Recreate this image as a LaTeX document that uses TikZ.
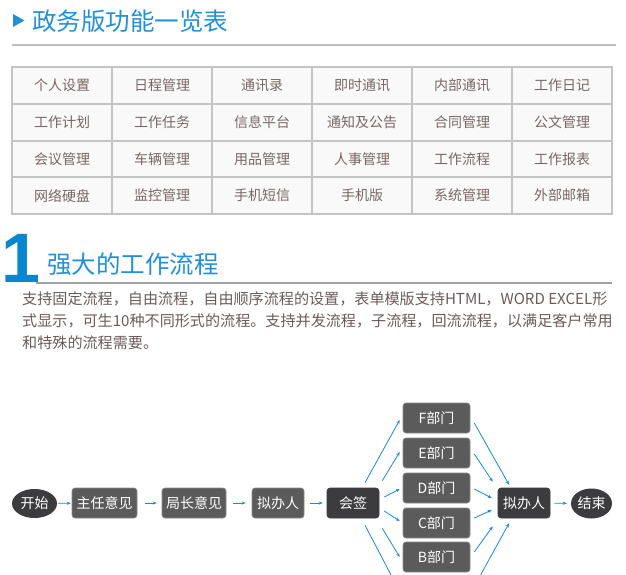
\documentclass[tikz,border=0pt]{standalone}
\usepackage{fontspec}
\setmainfont{Noto Sans CJK SC}
\newfontfamily\numfont{Liberation Sans}
\usetikzlibrary{shapes.geometric,arrows.meta}
\definecolor{hblue}{HTML}{2290D6}
\definecolor{oneblue}{HTML}{0A86CF}
\definecolor{gline}{HTML}{BDBDBD}
\definecolor{cellfill}{HTML}{F9F9F9}
\definecolor{cellborder}{HTML}{C4C4C4}
\definecolor{celltext}{HTML}{7A6666}
\definecolor{bodytext}{HTML}{6B5C5C}
\definecolor{boxgray}{HTML}{5B5B5B}
\definecolor{boxdark}{HTML}{3C3B3D}
\definecolor{boxline}{HTML}{8A8A8A}
\definecolor{arrblue}{HTML}{1A8AD4}
\begin{document}
\begin{tikzpicture}[x=1pt,y=-1pt,
  cell/.style={draw=cellborder,line width=2pt,fill=cellfill,minimum width=100pt,minimum height=36.67pt,inner sep=0pt,text=celltext,font=\fontsize{14}{16}\selectfont},
  htitle/.style={anchor=west,inner sep=0pt,text=hblue,font=\fontsize{24.5}{28}\selectfont},
  bodyline/.style={anchor=west,inner sep=0pt,text=bodytext,font=\fontsize{15.1}{17}\selectfont},
  flowbox/.style={draw=boxline,line width=0.6pt,fill=boxgray,rounded corners=3pt,minimum height=30pt,inner sep=0pt,text=white,font=\fontsize{14}{16}\selectfont},
  darkbox/.style={flowbox,fill=boxdark,draw=boxdark},
  term/.style={ellipse,fill=boxdark,inner sep=0pt,text=white,font=\fontsize{14}{16}\selectfont},
  arr/.style={draw=arrblue,line width=0.8pt,-{Stealth[length=4pt,width=3.2pt]}}
]
\useasboundingbox (0,0) rectangle (626,575);
\clip (0,0) rectangle (626,575);
\fill[white] (0,0) rectangle (626,575);

% header
\fill[hblue] (13,14) -- (24.5,20.5) -- (13,27) -- cycle;
\node[htitle] (head) at (32,21) {政务版功能一览表};
\draw[gline,line width=2pt] (12,45) -- (616,45);

% grid
\foreach \row [count=\r from 0] in {{个人设置,日程管理,通讯录,即时通讯,内部通讯,工作日记},{工作计划,工作任务,信息平台,通知及公告,合同管理,公文管理},{会议管理,车辆管理,用品管理,人事管理,工作流程,工作报表},{网络硬盘,监控管理,手机短信,手机版,系统管理,外部邮箱}}{
  \foreach \t [count=\c from 0] in \row {
    \node[cell] (g\r\c) at (62+100*\c,85.6+36.67*\r) {\t};
  }
}

% section 1
\node[inner sep=0pt,anchor=base west,text=oneblue,font=\numfont\bfseries\fontsize{70}{72}\selectfont] (one) at (1,282) {1};
\node[htitle] (sec) at (47,264) {强大的工作流程};
\draw[gline!85!black,line width=1.5pt] (36,283) -- (612,283);

\node[bodyline] (l1) at (22,299) {支持固定流程，自由流程，自由顺序流程的设置，表单模版支持HTML，WORD EXCEL形};
\node[bodyline] (l2) at (22,321) {式显示，可生10种不同形式的流程。支持并发流程，子流程，回流流程，以满足客户常用};
\node[bodyline] (l3) at (22,343) {和特殊的流程需要。};

% flowchart
\node[term,minimum width=45pt,minimum height=29pt] (start) at (34.5,503.5) {开始};
\node[flowbox,minimum width=65pt] (zr) at (104.5,503) {主任意见};
\node[flowbox,minimum width=64pt] (jz) at (194,503) {局长意见};
\node[flowbox,minimum width=52pt] (nb1) at (278,503) {拟办人};
\node[darkbox,minimum width=52pt] (hq) at (353,503) {会签};
\node[flowbox,minimum width=67pt] (F) at (436.5,418) {F部门};
\node[flowbox,minimum width=67pt] (E) at (436.5,453) {E部门};
\node[flowbox,minimum width=67pt] (D) at (436.5,488) {D部门};
\node[flowbox,minimum width=67pt] (C) at (436.5,523) {C部门};
\node[flowbox,minimum width=67pt] (B) at (436.5,557) {B部门};
\coordinate (Aw) at (403,592);
\coordinate (Ae) at (470,592);
\node[darkbox,minimum width=52pt] (nb2) at (524,503) {拟办人};
\node[term,minimum width=41pt,minimum height=30pt] (end) at (591.5,503.5) {结束};

\draw[arr,shorten <=1pt,shorten >=1pt] (start) -- (zr);
\draw[arr,shorten <=8pt,shorten >=5pt] (zr) -- (jz);
\draw[arr,shorten <=7pt,shorten >=6pt] (jz) -- (nb1);
\draw[arr,shorten <=6pt,shorten >=4pt] (nb1) -- (hq);
\draw[arr,shorten <=4pt,shorten >=4pt] (nb2) -- (end);

\draw[arr] ([shift={(12,-5)}]hq.north) -- ([shift={(-3,2)}]F.west);
\draw[arr] ([shift={(3,-7)}]hq.north east) -- ([shift={(-3,-1)}]E.west);
\draw[arr] ([shift={(5,-6)}]hq.east) -- ([shift={(-3,1)}]D.west);
\draw[arr] ([shift={(5,8)}]hq.east) -- ([shift={(-3,-2)}]C.west);
\draw[arr] ([shift={(3,10)}]hq.south east) -- ([shift={(-3,0)}]B.west);
\draw[arr] ([shift={(12,7)}]hq.south) -- ([shift={(-3,0)}]Aw);

\draw[arr] ([shift={(4,5)}]F.east) -- ([shift={(-15,-3)}]nb2.north);
\draw[arr] ([shift={(4,1)}]E.east) -- ([shift={(-5,-6)}]nb2.north west);
\draw[arr] ([shift={(4,1)}]D.east) -- ([shift={(-6,-5)}]nb2.west);
\draw[arr] ([shift={(4,-5)}]C.east) -- ([shift={(-6,7)}]nb2.west);
\draw[arr] ([shift={(4,-5)}]B.east) -- ([shift={(-5,8)}]nb2.south west);
\draw[arr] ([shift={(4,-5)}]Ae) -- ([shift={(-15,5)}]nb2.south);
\end{tikzpicture}
\end{document}
